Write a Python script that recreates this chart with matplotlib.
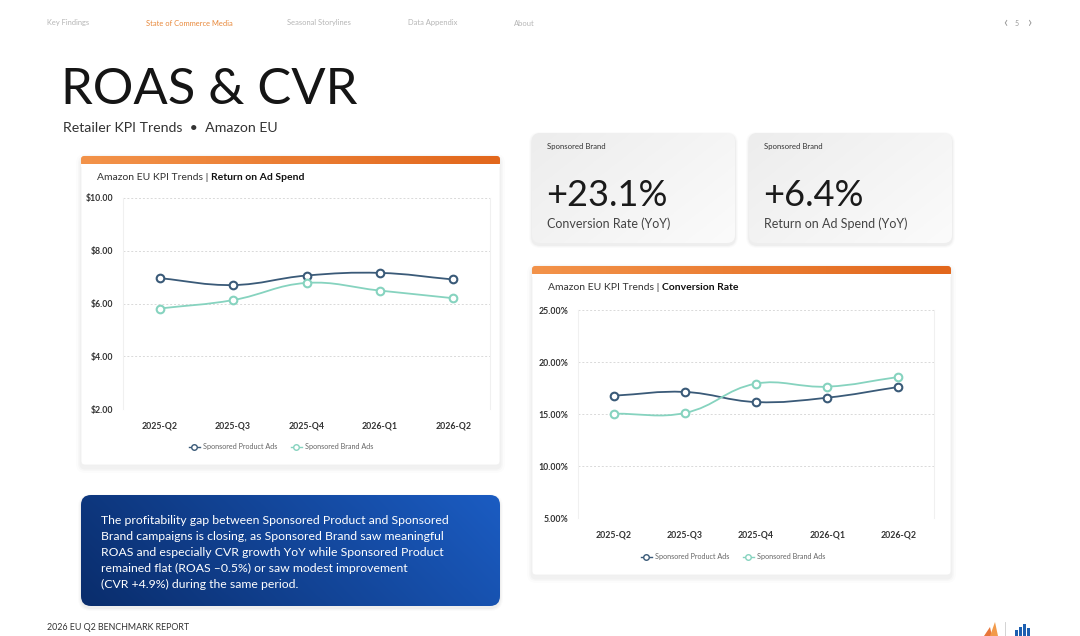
import numpy as np
import matplotlib
matplotlib.use("Agg")
import matplotlib.pyplot as plt
from matplotlib.patches import FancyBboxPatch, Rectangle, Polygon
from matplotlib.path import Path
from matplotlib.patches import PathPatch
from matplotlib.lines import Line2D
from matplotlib.colors import LinearSegmentedColormap

# ---------------- data ----------------
quarters = ["2025-Q2", "2025-Q3", "2025-Q4", "2026-Q1", "2026-Q2"]
roas_product = [6.96, 6.70, 7.06, 7.16, 6.91]
roas_brand = [5.81, 6.13, 6.78, 6.49, 6.20]
cvr_product = [16.76, 17.12, 16.15, 16.57, 17.60]
cvr_brand = [15.03, 15.10, 17.92, 17.63, 18.56]
roas_ticks = [2, 4, 6, 8, 10]
cvr_ticks = [5, 10, 15, 20, 25]
series_names = ["Sponsored Product Ads", "Sponsored Brand Ads"]
kpi_values = ["+23.1%", "+6.4%"]
kpi_labels = ["Conversion Rate (YoY)", "Return on Ad Spend (YoY)"]
nav_items = ["Key Findings", "State of Commerce Media", "Seasonal Storylines", "Data Appendix", "About"]
summary_lines = [
    "The profitability gap between Sponsored Product and Sponsored",
    "Brand campaigns is closing, as Sponsored Brand saw meaningful",
    "ROAS and especially CVR growth YoY while Sponsored Product",
    "remained flat (ROAS \u20130.5%) or saw modest improvement",
    "(CVR +4.9%) during the same period.",
]

FONT = ["Lato", "DejaVu Sans"]
plt.rcParams["font.family"] = FONT

C_PROD = "#3a5a78"
C_BRAND = "#86d3bf"

W, H = 1080, 636
fig = plt.figure(figsize=(W / 100, H / 100), dpi=100)
bg = fig.add_axes([0, 0, 1, 1])
bg.set_xlim(0, W)
bg.set_ylim(H, 0)
bg.axis("off")
bg.set_zorder(0)


def grad_box(ax, x, y, w, h, c1, c2, r=6, angle=0.0, z=1, shadow=False):
    if shadow:
        for k, a in [(6, 0.015), (4, 0.02), (2, 0.03)]:
            s = FancyBboxPatch((x - k / 2, y - k / 2 + 2), w + k, h + k,
                               boxstyle=f"round,pad=0,rounding_size={r + k/2}",
                               fc="#000000", ec="none", alpha=a, zorder=z - 0.5)
            ax.add_patch(s)
    patch = FancyBboxPatch((x, y), w, h, boxstyle=f"round,pad=0,rounding_size={r}",
                           fc="none", ec="none", zorder=z)
    ax.add_patch(patch)
    cmap = LinearSegmentedColormap.from_list("g", [c1, c2])
    xx, yy = np.meshgrid(np.linspace(0, 1, 200), np.linspace(0, 1, 50))
    t = np.cos(angle) * xx + np.sin(angle) * yy
    t = (t - t.min()) / (t.max() - t.min())
    im = ax.imshow(t, cmap=cmap, extent=(x, x + w, y + h, y), origin="upper",
                   aspect="auto", zorder=z, interpolation="bilinear")
    im.set_clip_path(patch)
    return patch


# ---------------- nav ----------------
nav_x = [47, 146, 287, 408, 514]
for t, x in zip(nav_items, nav_x):
    bg.text(x, 23, t, fontsize=5.4, color=("#e8883a" if t == "State of Commerce Media" else "#b5b5b5"),
            va="center", ha="left")
bg.text(1005, 23, "\u2039", fontsize=11, color="#999999", va="center", ha="center")
bg.text(1017, 23, "5", fontsize=5, color="#999999", va="center", ha="center")
bg.text(1029, 23, "\u203a", fontsize=11, color="#999999", va="center", ha="center")

# ---------------- title ----------------
bg.text(61, 90, "ROAS & CVR", fontsize=36.5, fontweight="normal", color="#151515",
        va="center", ha="left")
bg.text(63, 128, "Retailer KPI Trends  \u2022  Amazon EU", fontsize=10.2, color="#333333",
        va="center", ha="left")

# ---------------- cards ----------------
def chart_card(x, y, w, h, title_bold):
    card = FancyBboxPatch((x, y), w, h, boxstyle="round,pad=0,rounding_size=4",
                          fc="white", ec="#f0f0f0", lw=0.6, zorder=1)
    for k, a in [(10, 0.012), (6, 0.018), (3, 0.025)]:
        bg.add_patch(FancyBboxPatch((x - k / 2, y - k / 2 + 3), w + k, h + k,
                                    boxstyle=f"round,pad=0,rounding_size={4 + k/2}",
                                    fc="black", ec="none", alpha=a, zorder=0.5))
    bg.add_patch(card)
    grad_box(bg, x, y, w, 10, "#f3934a", "#e2671c", r=3, z=1.2)
    bg.add_patch(Rectangle((x, y + 8), w, 3, fc="white", ec="none", zorder=1.3))
    t1 = bg.text(x + 16, y + 22, "Amazon EU KPI Trends | ", fontsize=7.5, color="#333333",
                 va="center", ha="left", zorder=2)
    bg.annotate(title_bold, xy=(1, 0.5), xycoords=t1, va="center", ha="left",
                fontsize=7.5, fontweight="bold", color="#111111", zorder=2)


chart_card(81, 156, 419, 309, "Return on Ad Spend")
chart_card(532, 266, 419, 309, "Conversion Rate")

# KPI boxes
for i, (x0, val, lab) in enumerate(zip([532, 749], kpi_values, kpi_labels)):
    grad_box(bg, x0, 133, 203, 110, "#ededed", "#fbfbfb", r=8, angle=0.6, z=1, shadow=True)
    bg.text(x0 + 15, 146, "Sponsored Brand", fontsize=5.6, color="#333333", va="center", ha="left", zorder=2)
    bg.text(x0 + 14, 196, val, fontsize=26, fontweight="normal", color="#1a1a1a",
            va="center", ha="left", zorder=2)
    bg.text(x0 + 15, 224, lab, fontsize=9, color="#444444", va="center", ha="left", zorder=2)

# Summary blue box
grad_box(bg, 81, 495, 419, 111, "#0a2d6c", "#1b5cc2", r=10, angle=-0.25, z=1, shadow=True)
for i, line in enumerate(summary_lines):
    bg.text(101, 520 + 16 * i, line, fontsize=8.8, color="white", va="center", ha="left", zorder=2)

# footer
bg.text(47, 628, "2026 EU Q2 BENCHMARK REPORT", fontsize=6.4, color="#333333", va="center", ha="left")
# logos
bg.add_patch(Polygon([[984, 636], [990, 627], [992, 636]], closed=True, fc="#e8763a", ec="none"))
bg.add_patch(Polygon([[990, 636], [995, 622], [998, 636]], closed=True, fc="#f29a4a", ec="none"))
bg.plot([1005, 1005], [622, 636], color="#cccccc", lw=0.6)
for bx, bh in [(1015, 6), (1019, 9), (1023, 12), (1027, 8)]:
    bg.add_patch(Rectangle((bx, 636 - bh), 3, bh, fc="#1d5fb0", ec="none"))


# ---------------- charts ----------------
def smooth_path(xs, ys, ax, tension=0.4):
    # Chart.js-like bezier control points computed in axis-normalized space
    x0, x1 = ax.get_xlim()
    y0, y1 = ax.get_ylim()
    sx, sy = 1.0 / (x1 - x0), 1.0 / (y1 - y0)
    pts = np.column_stack([xs, ys]).astype(float)
    n = len(pts)
    cps = []
    for i in range(n):
        prev = pts[max(i - 1, 0)]
        cur = pts[i]
        nxt = pts[min(i + 1, n - 1)]
        d01 = np.hypot((cur[0] - prev[0]) * sx, (cur[1] - prev[1]) * sy)
        d12 = np.hypot((nxt[0] - cur[0]) * sx, (nxt[1] - cur[1]) * sy)
        tot = d01 + d12
        s01 = d01 / tot if tot else 0
        s12 = d12 / tot if tot else 0
        fa, fb = tension * s01, tension * s12
        cps.append((cur - fa * (nxt - prev), cur + fb * (nxt - prev)))
    verts = [pts[0]]
    codes = [Path.MOVETO]
    for i in range(n - 1):
        verts += [cps[i][1], cps[i + 1][0], pts[i + 1]]
        codes += [Path.CURVE4] * 3
    return Path(verts, codes)


def make_chart(rect, prod, brand, ticks, fmt, legend_center):
    ax = fig.add_axes(rect)
    ax.set_zorder(3)
    ax.patch.set_alpha(0)
    xs = np.arange(len(quarters))
    ax.set_xlim(-0.5, len(quarters) - 0.5)
    ax.set_ylim(ticks[0], ticks[-1])
    ax.set_yticks(ticks)
    ax.set_yticklabels([fmt(t) for t in ticks])
    ax.set_xticks(xs)
    ax.set_xticklabels(quarters)
    ax.tick_params(axis="both", length=0, labelsize=6.3, labelcolor="#333333")
    ax.tick_params(axis="y", pad=7)
    ax.tick_params(axis="x", pad=9)
    for lab in ax.get_xticklabels() + ax.get_yticklabels():
        lab.set_fontweight("bold")
    for t in ticks:
        ax.axhline(t, color="#d9d9d9", lw=0.7, ls=(0, (2, 2)), zorder=1)
    for s in ["top", "bottom"]:
        ax.spines[s].set_visible(False)
    for s in ["left", "right"]:
        ax.spines[s].set_color("#f0f0f0")
        ax.spines[s].set_linewidth(0.8)
    for vals, col in [(prod, C_PROD), (brand, C_BRAND)]:
        p = smooth_path(xs, vals, ax)
        ax.add_patch(PathPatch(p, fc="none", ec=col, lw=1.3, zorder=3, clip_on=False))
        ax.plot(xs, vals, ls="none", marker="o", ms=5.5, mfc="white", mec=col, mew=1.5,
                zorder=4, clip_on=False)
    handles = [Line2D([0], [0], color=c, lw=1.0, marker="o", ms=4, mfc="white", mec=c, mew=1.0)
               for c in (C_PROD, C_BRAND)]
    fig.legend(handles, series_names, loc="center", bbox_to_anchor=legend_center,
               ncol=2, frameon=False, fontsize=5.2, labelcolor="#666666",
               handlelength=1.6, handletextpad=0.4, columnspacing=1.8)
    return ax


make_chart([123 / W, 1 - 409 / H, 367 / W, 211 / H], roas_product, roas_brand, roas_ticks,
           lambda v: f"${v:.2f}", (281 / W, 1 - 447 / H))
make_chart([578 / W, 1 - 518 / H, 356 / W, 208 / H], cvr_product, cvr_brand, cvr_ticks,
           lambda v: f"{v:.2f}%", (733 / W, 1 - 557 / H))

fig.savefig("out.png", dpi=100, facecolor="white")
